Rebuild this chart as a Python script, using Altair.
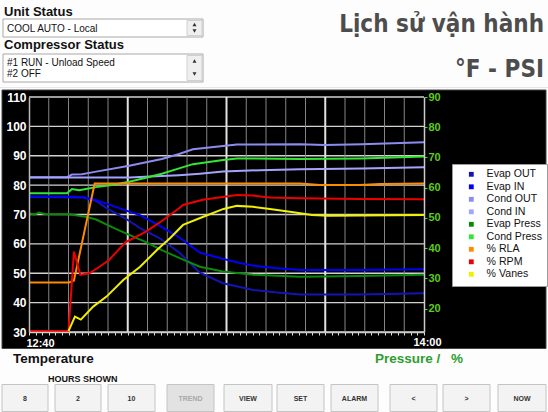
import altair as alt
import pandas as pd

# ---------------- data ----------------
series_names = ["Evap OUT", "Evap IN", "Cond OUT", "Cond IN", "Evap Press",
                "Cond Press", "% RLA", "% RPM", "% Vanes"]
series_colors = ["#1414b4", "#0000ff", "#8c8cf0", "#a4a4ff", "#0a8a0a",
                 "#33e633", "#ff8c00", "#ee0000", "#f0f000"]

# minutes after 12:40 / value
t_evap_out = [0, 10.9, 13.6, 15.8, 19.4, 22.5, 26.5, 30.6, 34.6, 39.3, 42.7, 45.4, 49.8, 54.9, 67.0, 80]
v_evap_out = [76.0, 75.8, 74.6, 72.1, 68.8, 65.4, 61.9, 56.8, 50.2, 46.6, 45.3, 44.3, 43.5, 42.8, 42.8, 43.2]

t_evap_in = [0, 6.3, 10.9, 13.6, 15.8, 19.4, 22.5, 26.5, 30.6, 34.6, 39.3, 42.7, 45.4, 49.8, 54.9, 67.0, 80]
v_evap_in = [76.1, 76.1, 76.0, 74.9, 73.6, 71.5, 69.8, 66.1, 62.0, 57.0, 54.9, 53.5, 52.6, 51.8, 51.1, 51.1, 51.4]

t_cond_out = [0, 7.7, 8.7, 10.7, 13.6, 20.3, 26.9, 30.4, 33.2, 39.3, 42.1, 54.9, 59.9, 67.4, 80]
v_cond_out = [82.7, 82.7, 83.6, 83.7, 84.6, 86.6, 88.9, 90.6, 92.2, 93.3, 93.8, 93.9, 93.7, 93.9, 94.6]

t_cond_in = [0, 20.5, 24.5, 30.4, 34.6, 39.3, 46.8, 54.9, 67.4, 80]
v_cond_in = [82.6, 82.6, 82.9, 83.4, 83.9, 84.6, 85.1, 85.4, 85.7, 86.1]

t_evap_press = [0, 1.2, 2.0, 3.2, 8.1, 11.5, 13.6, 16.8, 20.3, 23.7, 26.9, 30.4, 34.6, 39.3, 45.4, 54.9, 67.0, 80]
v_evap_press = [51.5, 51.2, 51.8, 51.3, 51.2, 50.4, 49.5, 47.0, 44.4, 42.0, 39.4, 36.8, 33.9, 32.3, 31.2, 30.6, 30.8, 31.2]

t_cond_press = [0, 7.7, 8.7, 10.1, 10.7, 13.6, 16.8, 20.3, 23.7, 26.9, 30.4, 33.2, 39.3, 42.1, 54.9, 67.4, 80]
v_cond_press = [58.2, 58.2, 59.6, 59.2, 59.3, 60.2, 60.9, 62.0, 63.3, 64.6, 66.4, 67.8, 69.2, 69.7, 69.5, 69.7, 70.3]

t_rla = [0, 8.1, 9.1, 13.3, 54.9, 58.9, 67.0, 71.1, 80]
v_rla = [28.7, 28.7, 29.3, 61.4, 61.4, 60.9, 60.9, 61.2, 61.4]

t_rpm = [0, 8.0, 9.1, 10.4, 12.2, 14.2, 16.2, 19.6, 23.7, 26.9, 30.4, 31.2, 35.2, 42.1, 45.4, 48.8, 54.9, 67.0, 80]
v_rpm = [12.6, 12.6, 38.9, 31.2, 31.7, 33.8, 36.1, 42.0, 45.5, 49.0, 53.2, 54.3, 56.0, 57.6, 57.4, 56.8, 56.5, 56.3, 56.2]

t_vanes = [8.0, 9.3, 10.5, 13.0, 15.7, 19.1, 22.5, 25.9, 28.6, 31.2, 35.3, 39.4, 42.1, 45.4, 48.8, 53.9, 57.3, 60.6, 67.4, 80]
v_vanes = [12.6, 17.4, 16.4, 20.7, 24.0, 29.5, 33.9, 39.4, 43.4, 47.7, 50.4, 53.0, 54.0, 53.7, 53.0, 51.8, 51.0, 50.7, 50.8, 51.0]

temp_ticks = [30, 40, 50, 60, 70, 80, 90, 100, 110]
press_ticks = [20, 30, 40, 50, 60, 70, 80, 90]
time_labels = ["12:40", "14:00"]
grid_minor = [4, 8, 12, 16, 24, 28, 32, 36, 44, 48, 52, 56, 64, 68, 72, 76]
grid_major = [20, 40, 60]

button_labels = ["8", "2", "10", "TREND", "VIEW", "SET", "ALARM", "<", ">", "NOW"]
button_left = [2, 55, 108, 167, 224, 277, 331, 390, 443, 498]
button_right = [48, 101, 155, 214, 272, 324, 378, 437, 490, 546]

title_lines = ["Lịch sử vận hành", "°F - PSI"]

# ---------------- layout ----------------
OX, OY, W, H = 29, 97, 395, 235
SANS = "Liberation Sans, Arial, Helvetica, sans-serif"
COND = "DejaVu Sans Condensed, DejaVu Sans, sans-serif"
one = pd.DataFrame({"k": [0]})


def vx(x):
    return alt.value(x - OX)


def vy(y):
    return alt.value(y - OY)


def box(x0, y0, x1, y1, fill, stroke=None, sw=1.0):
    props = {"fill": fill}
    if stroke is not None:
        props.update(stroke=stroke, strokeWidth=sw)
    return alt.Chart(one).mark_rect(**props).encode(x=vx(x0), x2=vx(x1), y=vy(y0), y2=vy(y1))


def label(s, x, y, size, color="#111111", weight="normal", align="left", font=SANS, baseline="middle"):
    return alt.Chart(one).mark_text(text=s, font=font, fontSize=size, fontWeight=weight,
                                    color=color, align=align, baseline=baseline).encode(x=vx(x), y=vy(y))


def tri(shape, x, y):
    return alt.Chart(one).mark_point(shape=shape, filled=True, size=16, color="#333333",
                                     opacity=1).encode(x=vx(x), y=vy(y))


def hline(x0, x1, y, color):
    return alt.Chart(one).mark_rule(color=color, strokeWidth=1).encode(x=vx(x0), x2=vx(x1), y=vy(y))


decor = [
    box(2, 90, 546, 348.5, "#000000", "#444444", 1),
    hline(0, 548, 87.5, "#e6e6e6"),
    label("Unit Status", 4, 12, 13, "#111111", "bold"),
    box(3, 19, 203, 37, "#ffffff", "#a8a8a8"),
    box(187, 20.5, 202, 35.5, "#efefef", "#d0d0d0"),
    tri("triangle-up", 194.5, 24.5), tri("triangle-down", 194.5, 31),
    label("COOL AUTO - Local", 7, 28.5, 10),
    label("Compressor Status", 4, 45, 13, "#111111", "bold"),
    box(3, 54, 203, 82, "#ffffff", "#a8a8a8"),
    box(187, 55.5, 202, 80.5, "#efefef", "#d0d0d0"),
    tri("triangle-up", 194.5, 61), tri("triangle-down", 194.5, 74),
    label("#1 RUN - Unload Speed", 7, 62.5, 10),
    label("#2 OFF", 7, 74, 10),
    label(title_lines[0], 544, 32, 24, "#4d4d4d", "bold", "right", COND, "alphabetic"),
    label(title_lines[1], 544, 77, 24, "#4d4d4d", "bold", "right", COND, "alphabetic"),
    label("Temperature", 13, 359, 13.5, "#111111", "bold"),
    label("Pressure /", 375, 359, 13.5, "#2e9e2e", "bold"),
    label("%", 451, 359, 13.5, "#2e9e2e", "bold"),
    label("HOURS SHOWN", 48, 379, 9, "#111111", "bold"),
]
for lab, l, r in zip(button_labels, button_left, button_right):
    grey = lab == "TREND"
    decor.append(box(l, 384.5, r, 411.5, "#e2e2e2" if grey else "#f3f3f3", "#c4c4c4"))
    decor.append(label(lab, (l + r) / 2, 398.5, 7, "#a8a8a8" if grey else "#333333", "bold", "center"))

# ---------------- chart ----------------
def make_df(names, ts, vs):
    return pd.concat([pd.DataFrame({"t": t, "v": v, "series": n}) for n, t, v in zip(names, ts, vs)],
                     ignore_index=True)


temp_df = make_df(series_names[:4], [t_evap_out, t_evap_in, t_cond_out, t_cond_in],
                  [v_evap_out, v_evap_in, v_cond_out, v_cond_in])
press_df = make_df(series_names[4:], [t_evap_press, t_cond_press, t_rla, t_rpm, t_vanes],
                   [v_evap_press, v_cond_press, v_rla, v_rpm, v_vanes])

xs = alt.Scale(domain=[0, 80], nice=False, zero=False)
yL = alt.Scale(domain=[30, 110], nice=False, zero=False)
yR = alt.Scale(domain=[12.3, 90], nice=False, zero=False)
color = alt.Color("series:N", scale=alt.Scale(domain=series_names, range=series_colors),
                  legend=alt.Legend(title=None))

x_tick_vals = [round(i * 4 / 3, 3) for i in range(61)]
x_axis = alt.Axis(orient="bottom", values=x_tick_vals, title=None, grid=False,
                  tickColor="#dddddd", tickSize=3, tickWidth=1,
                  labelExpr=f"datum.value == 0 ? '{time_labels[0]}' : (datum.value == 80 ? '{time_labels[1]}' : '')",
                  labelColor="white", labelFont=SANS, labelFontSize=11, labelFontWeight="bold",
                  labelPadding={"condition": {"test": "datum.value == 0", "value": 2.5}, "value": 1},
                  labelOffset={"condition": {"test": "datum.value == 0", "value": 11}, "value": 3},
                  labelFlush=False, labelOverlap=False,
                  domainColor="#cccccc", domainWidth=1.5, zindex=1)
left_axis = alt.Axis(orient="left", values=temp_ticks, title=None, grid=False, ticks=False,
                     labelColor="white", labelFont=SANS, labelFontSize=12, labelFontWeight="bold",
                     labelPadding=3, domainColor="#bbbbbb", domainWidth=1.5, zindex=1)
right_axis = alt.Axis(orient="right", values=press_ticks, title=None, grid=False,
                      tickColor="#5ccc1e", tickSize=3, labelColor="#5ccc1e", labelFont=SANS,
                      labelFontSize=11, labelFontWeight="bold", labelPadding=1,
                      domainColor="#cccccc", domainWidth=1.5, zindex=1)

hgrid = alt.Chart(pd.DataFrame({"v": temp_ticks})).mark_rule(color="#d2d2d2", strokeWidth=1.3).encode(
    y=alt.Y("v:Q", scale=yL, axis=None))
vminor = alt.Chart(pd.DataFrame({"t": grid_minor})).mark_rule(color="#858585", strokeWidth=1).encode(
    x=alt.X("t:Q", scale=xs, axis=x_axis))
vmajor = alt.Chart(pd.DataFrame({"t": grid_major})).mark_rule(color="#e2e2e2", strokeWidth=2).encode(
    x=alt.X("t:Q", scale=xs, axis=x_axis))

temp_lines = alt.Chart(temp_df).mark_line(strokeWidth=2).encode(
    x=alt.X("t:Q", scale=xs, axis=x_axis),
    y=alt.Y("v:Q", scale=yL, axis=left_axis),
    color=color)
press_lines = alt.Chart(press_df).mark_line(strokeWidth=2).encode(
    x=alt.X("t:Q", scale=xs, axis=x_axis),
    y=alt.Y("v:Q", scale=yR, axis=right_axis),
    color=color)

chart = (
    alt.layer(*decor, hgrid, vminor, vmajor, temp_lines, press_lines)
    .resolve_scale(y="independent")
    .properties(width=W, height=H, background="#fdfdfd",
                padding={"left": OX, "top": OY, "right": 548 - OX - W, "bottom": 412 - OY - H},
                autosize=alt.AutoSizeParams(type="none"))
    .configure_view(strokeWidth=0)
    .configure_legend(orient="none", legendX=423, legendY=67, fillColor="#ffffff",
                      strokeColor="#9a9a9a", padding=5, symbolType="square", symbolSize=5,
                      symbolStrokeWidth=2.6, labelFont=SANS, labelFontSize=10.6,
                      labelColor="#111111", labelOffset=10, rowPadding=-1.5, symbolOffset=9)
)

chart.save("out.html", embed_options={"renderer": "svg", "actions": False})
